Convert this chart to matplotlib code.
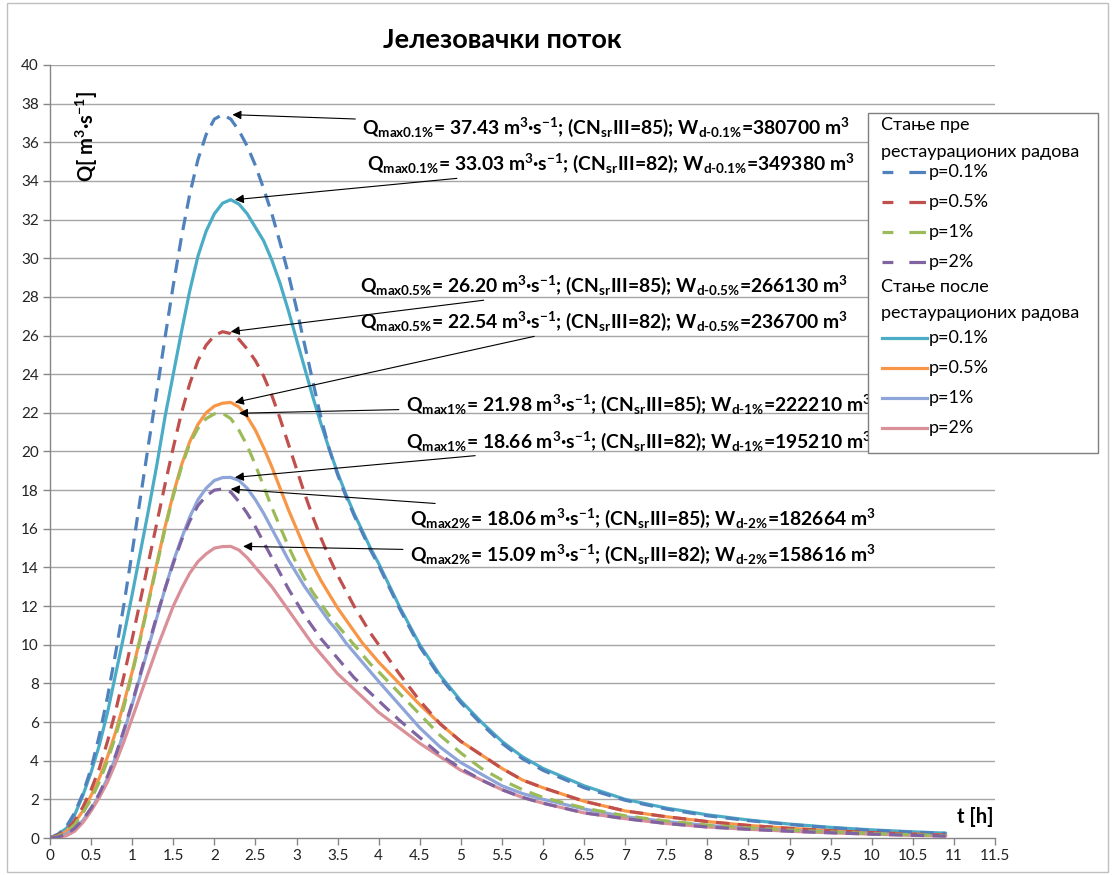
import matplotlib
matplotlib.use('Agg')
import matplotlib.pyplot as plt
from matplotlib.lines import Line2D
from matplotlib.patches import Rectangle

plt.rcParams['font.family'] = ['Lato', 'Open Sans', 'DejaVu Sans']
plt.rcParams['mathtext.fontset'] = 'custom'
plt.rcParams['mathtext.rm'] = 'Lato:bold'
plt.rcParams['mathtext.it'] = 'Lato:bold'
plt.rcParams['mathtext.bf'] = 'Lato:bold'

# ---------------- data ----------------
t = [0.0, 0.1, 0.2, 0.3, 0.4, 0.5, 0.6, 0.7, 0.8, 0.9,
     1.0, 1.1, 1.2, 1.3, 1.4, 1.5, 1.6, 1.7, 1.8, 1.9,
     2.0, 2.1, 2.2, 2.3, 2.4, 2.5, 2.6, 2.7, 2.8, 2.9,
     3.0, 3.1, 3.2, 3.3, 3.4, 3.5, 3.6, 3.7, 3.8, 3.9,
     4.0, 4.25, 4.5, 4.75, 5.0, 5.25, 5.5, 5.75, 6.0,
     6.5, 7.0, 7.5, 8.0, 8.5, 9.0, 9.5, 10.0, 10.5, 10.9]

# before restoration works (dashed)
q_pre_01 = [0, 0.2, 0.6, 1.3, 2.3, 3.6, 5.3, 7.3, 9.6, 12.1,
            14.8, 17.6, 20.4, 23.1, 25.9, 28.6, 31.1, 33.3, 35.1, 36.4,
            37.2, 37.43, 37.2, 36.6, 35.8, 34.8, 33.6, 32.3, 30.8, 29.2,
            27.4, 25.5, 23.6, 21.7, 20.1, 18.8, 17.7, 16.7, 15.8, 14.9,
            14.1, 11.9, 9.9, 8.3, 7.0, 5.9, 4.9, 4.1, 3.5,
            2.6, 1.95, 1.5, 1.15, 0.9, 0.7, 0.53, 0.4, 0.3, 0.24]
q_pre_05 = [0, 0.15, 0.4, 0.9, 1.6, 2.5, 3.6, 5.0, 6.6, 8.4,
            10.3, 12.3, 14.3, 16.3, 18.3, 20.2, 22.0, 23.5, 24.7, 25.5,
            26.0, 26.2, 26.1, 25.8, 25.3, 24.7, 23.9, 22.9, 21.7, 20.4,
            19.1, 17.8, 16.6, 15.5, 14.5, 13.6, 12.8, 12.0, 11.3, 10.6,
            10.0, 8.5, 7.1, 5.9, 5.0, 4.3, 3.6, 3.0, 2.6,
            1.9, 1.4, 1.1, 0.85, 0.65, 0.5, 0.38, 0.28, 0.2, 0.15]
q_pre_1 = [0, 0.1, 0.3, 0.7, 1.3, 2.0, 2.9, 4.0, 5.3, 6.8,
           8.5, 10.3, 12.2, 14.1, 16.0, 17.7, 19.2, 20.4, 21.2, 21.7,
           21.95, 21.98, 21.7, 21.1, 20.3, 19.3, 18.2, 17.1, 16.1, 15.1,
           14.2, 13.4, 12.7, 12.1, 11.5, 11.0, 10.5, 10.0, 9.5, 9.0,
           8.6, 7.5, 6.4, 5.3, 4.4, 3.6, 3.0, 2.5, 2.1,
           1.55, 1.15, 0.88, 0.67, 0.52, 0.41, 0.31, 0.23, 0.17, 0.12]
q_pre_2 = [0, 0.05, 0.2, 0.5, 0.95, 1.55, 2.3, 3.2, 4.3, 5.6,
           7.0, 8.5, 10.0, 11.5, 12.9, 14.2, 15.4, 16.4, 17.2, 17.7,
           18.0, 18.06, 17.9, 17.4, 16.8, 16.1, 15.3, 14.5, 13.7, 12.9,
           12.2, 11.5, 10.9, 10.3, 9.8, 9.3, 8.8, 8.3, 7.9, 7.5,
           7.1, 6.1, 5.2, 4.3, 3.6, 3.0, 2.5, 2.1, 1.8,
           1.3, 1.0, 0.75, 0.57, 0.45, 0.35, 0.27, 0.2, 0.14, 0.1]

# after restoration works (solid)
q_post_01 = [0, 0.2, 0.5, 1.2, 2.2, 3.4, 4.8, 6.5, 8.5, 10.5,
             12.6, 14.8, 17.0, 19.3, 21.8, 24.0, 26.2, 28.3, 30.1, 31.4,
             32.3, 32.85, 33.03, 32.8, 32.3, 31.6, 30.9, 29.9, 28.7, 27.3,
             25.8, 24.3, 22.8, 21.4, 20.1, 18.9, 17.8, 16.8, 15.9, 15.0,
             14.2, 12.0, 10.0, 8.4, 7.1, 6.0, 5.0, 4.2, 3.6,
             2.7, 2.0, 1.55, 1.2, 0.93, 0.72, 0.55, 0.42, 0.32, 0.25]
q_post_05 = [0, 0.1, 0.35, 0.8, 1.4, 2.2, 3.1, 4.2, 5.5, 7.0,
             8.6, 10.4, 12.3, 14.2, 16.1, 17.8, 19.3, 20.5, 21.4, 22.0,
             22.35, 22.5, 22.54, 22.3, 21.8, 21.1, 20.2, 19.2, 18.1, 17.0,
             16.0, 15.0, 14.1, 13.3, 12.6, 11.9, 11.3, 10.7, 10.1, 9.6,
             9.1, 8.0, 6.9, 5.9, 5.0, 4.3, 3.6, 3.0, 2.6,
             1.9, 1.4, 1.1, 0.85, 0.65, 0.5, 0.38, 0.28, 0.2, 0.15]
q_post_1 = [0, 0.05, 0.2, 0.5, 0.9, 1.5, 2.2, 3.1, 4.2, 5.5,
            6.9, 8.4, 9.9, 11.4, 12.9, 14.3, 15.5, 16.6, 17.5, 18.1,
            18.5, 18.65, 18.66, 18.5, 18.1, 17.5, 16.8, 16.0, 15.2, 14.4,
            13.7, 13.0, 12.4, 11.8, 11.2, 10.7, 10.1, 9.6, 9.1, 8.6,
            8.1, 6.9, 5.7, 4.7, 3.9, 3.3, 2.7, 2.3, 2.0,
            1.5, 1.1, 0.85, 0.65, 0.5, 0.4, 0.3, 0.22, 0.16, 0.12]
q_post_2 = [0, 0.03, 0.12, 0.35, 0.8, 1.4, 2.1, 2.9, 3.9, 5.0,
            6.2, 7.4, 8.6, 9.8, 10.9, 12.0, 12.9, 13.7, 14.3, 14.7,
            15.0, 15.08, 15.09, 14.9, 14.5, 14.0, 13.5, 13.0, 12.4, 11.8,
            11.2, 10.6, 10.0, 9.5, 9.0, 8.5, 8.1, 7.7, 7.3, 6.9,
            6.5, 5.7, 4.9, 4.2, 3.5, 3.0, 2.5, 2.1, 1.8,
            1.3, 1.0, 0.75, 0.57, 0.45, 0.35, 0.27, 0.2, 0.14, 0.1]

series_labels = ['p=0.1%', 'p=0.5%', 'p=1%', 'p=2%']
pre_series = [q_pre_01, q_pre_05, q_pre_1, q_pre_2]
post_series = [q_post_01, q_post_05, q_post_1, q_post_2]
pre_colors = ['#4F81BD', '#C0504D', '#9BBB59', '#8064A2']
post_colors = ['#4BACC6', '#F79646', '#8EA5D9', '#DA9098']

legend_head_pre = ['Стање пре', 'рестаурационих радова']
legend_head_post = ['Стање после', 'рестаурационих радова']
title = 'Јелезовачки поток'

# annotations
ann_p = ['0.1%', '0.1%', '0.5%', '0.5%', '1%', '1%', '2%', '2%']
ann_qmax = [37.43, 33.03, 26.20, 22.54, 21.98, 18.66, 18.06, 15.09]
ann_cn = [85, 82, 85, 82, 85, 82, 85, 82]
ann_wd = [380700, 349380, 266130, 236700, 222210, 195210, 182664, 158616]
ann_tpeak = [2.22, 2.25, 2.2, 2.25, 2.3, 2.25, 2.2, 2.35]
ann_text_t = [3.80, 3.86, 3.77, 3.77, 4.33, 4.33, 4.38, 4.38]
ann_text_q = [36.75, 34.9, 28.6, 26.75, 22.45, 20.55, 16.55, 14.7]

x_ticks = [i * 0.5 for i in range(24)]
x_ticklabels = ['0', '0.5', '1', '1.5', '2', '2.5', '3', '3.5', '4', '4.5', '5', '5.5',
                '6', '6.5', '7', '7.5', '8', '8.5', '9', '9.5', '10', '10.5', '11', '11.5']
y_ticks = list(range(0, 41, 2))

# ---------------- figure ----------------
W, H = 1113, 875
fig = plt.figure(figsize=(W / 100, H / 100), dpi=100)
fig.patch.set_facecolor('white')


def fx(px):
    return px / W


def fy(py):
    return 1 - py / H


ax = fig.add_axes([fx(50), fy(838), (995 - 50) / W, (838 - 65) / H])
ax.set_xlim(0, 11.5)
ax.set_ylim(0, 40)

grid_c = '#A5A5A5'
for yv in y_ticks[1:]:
    ax.axhline(yv, color=grid_c, lw=1.0, zorder=1)

lw = 2.3
dash = (0, (4.2, 2.6))
post_lines = []
for q, c in zip(post_series, post_colors):
    ln, = ax.plot(t, q, color=c, lw=lw, solid_capstyle='round', solid_joinstyle='round', zorder=3)
    post_lines.append(ln)
pre_lines = []
for q, c in zip(pre_series, pre_colors):
    ln, = ax.plot(t, q, color=c, lw=lw, linestyle=dash, zorder=4)
    pre_lines.append(ln)

ax.set_xticks(x_ticks)
ax.set_xticklabels(x_ticklabels)
ax.set_yticks(y_ticks)
ax.tick_params(axis='both', which='both', direction='out', length=5, width=1,
               color='#868686', labelsize=11, labelcolor='#222222', pad=3)
for s in ['top', 'right']:
    ax.spines[s].set_visible(False)
for s in ['left', 'bottom']:
    ax.spines[s].set_color('#868686')
    ax.spines[s].set_linewidth(1.0)

# axis labels inside the plot
ax.text(0.45, 36.3, r'Q[ m$^{3}$·s$^{-1}$]', rotation=90, ha='center', va='center',
        fontsize=14.5, fontweight='bold', zorder=6)
ax.text(11.48, 1.1, 't [h]', ha='right', va='center', fontsize=14.5, fontweight='bold', zorder=6)

# title
fig.text(fx(502), fy(40), title, ha='center', va='center', fontsize=19.5, fontweight='bold')

# annotations
for p, qm, cn, wd, tp, tx, ty in zip(ann_p, ann_qmax, ann_cn, ann_wd, ann_tpeak, ann_text_t, ann_text_q):
    pt = p.replace('%', r'\%')
    s = (r'Q$_{\mathrm{max' + pt + r'}}$= ' + f'{qm:.2f}' + r' m$^{3}$·s$^{-1}$; (CN$_{\mathrm{sr}}$III='
         + str(cn) + r'); W$_{\mathrm{d}\text{-}\mathrm{' + pt + r'}}$=' + str(wd) + r' m$^{3}$')
    ax.annotate(s, xy=(tp, qm), xytext=(tx, ty), ha='left', va='center',
                fontsize=13.9, fontweight='bold', zorder=5,
                arrowprops=dict(arrowstyle='-|>', color='black', lw=0.8,
                                mutation_scale=13, shrinkA=3, shrinkB=0))

# legend (drawn over the plot, like the original)
lx0, lx1, ly0, ly1 = 868, 1098, 113, 453
fig.add_artist(Rectangle((fx(lx0), fy(ly1)), (lx1 - lx0) / W, (ly1 - ly0) / H,
                         transform=fig.transFigure, facecolor='white',
                         edgecolor='#7F7F7F', lw=1.0, zorder=10))
leg_fs = 13
for txt, yy in zip(legend_head_pre + legend_head_post, [125, 152, 287, 313]):
    fig.text(fx(881), fy(yy), txt, ha='left', va='center', fontsize=leg_fs, zorder=11)
pre_y = [172, 202, 232, 262]
post_y = [338, 368, 398, 428]
for ln, lab, yy in zip(pre_lines, series_labels, pre_y):
    fig.add_artist(Line2D([fx(882), fx(927)], [fy(yy), fy(yy)], transform=fig.transFigure,
                          color=ln.get_color(), lw=lw, linestyle=(1.8, (5.2, 5.0)), zorder=11))
    fig.text(fx(929), fy(yy), lab, ha='left', va='center', fontsize=leg_fs, zorder=11)
for ln, lab, yy in zip(post_lines, series_labels, post_y):
    fig.add_artist(Line2D([fx(882), fx(927)], [fy(yy), fy(yy)], transform=fig.transFigure,
                          color=ln.get_color(), lw=lw, zorder=11))
    fig.text(fx(929), fy(yy), lab, ha='left', va='center', fontsize=leg_fs, zorder=11)

# chart area border
fig.add_artist(Rectangle((fx(7), fy(872)), (1108 - 7) / W, (872 - 3) / H,
                         transform=fig.transFigure, facecolor='none',
                         edgecolor='#BFBFBF', lw=1.0, zorder=0))

fig.savefig('out.png', dpi=100)
